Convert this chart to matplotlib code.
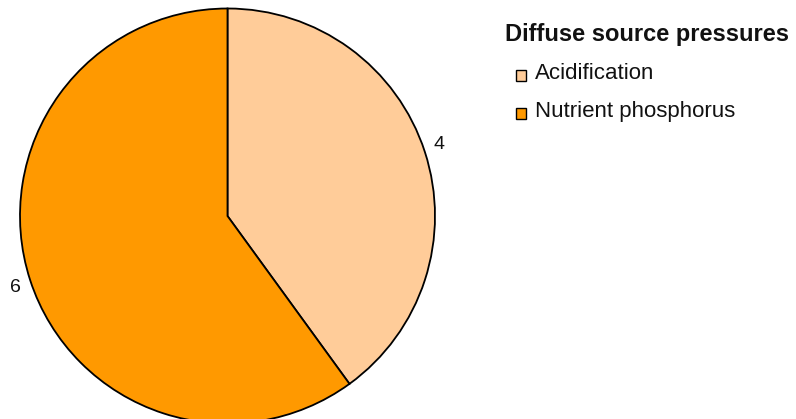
import matplotlib.pyplot as plt
from matplotlib.patches import Rectangle

plt.rcParams['font.family'] = ['Liberation Sans', 'DejaVu Sans']

# data
categorias = ["Acidification", "Nutrient phosphorus"]
valores = [4, 6]
colores = ["#FFCC99", "#FF9900"]
titulo_leyenda = "Diffuse source pressures"

W, H = 796, 419
fig = plt.figure(figsize=(W / 100, H / 100), dpi=100, facecolor="white")

def fx(px):
    return px / W

def fy(py):
    return 1 - py / H

# pie placement in pixels
cx, cy, r = 227.5, 216, 207.5
ax = fig.add_axes([(cx - r) / W, (H - cy - r) / H, 2 * r / W, 2 * r / H])
ax.set_aspect("equal")

wedges, textos = ax.pie(valores, colors=colores, startangle=90, counterclock=False,
                        labels=[str(v) for v in valores], labeldistance=1.045,
                        wedgeprops=dict(edgecolor="black", linewidth=1.3),
                        textprops=dict(fontsize=14, color="#111111"))
ax.set_xlim(-1, 1)
ax.set_ylim(-1, 1)
for w in wedges:
    w.set_clip_on(False)
# separar un poco las etiquetas en vertical
for t in textos:
    x, y = t.get_position()
    t.set_position((x, y * 1.06))

# ── Leyenda manual ───────────────────────────────────────────────────────────
fig.text(fx(505), fy(41), titulo_leyenda, fontsize=17, fontweight="bold",
         va="baseline", ha="left", color="#111111")
for i, (cat, col) in enumerate(zip(categorias, colores)):
    base = 79 + 38 * i
    fig.add_artist(Rectangle((fx(515.5), fy(base + 2)), 10.5 / W, 10.5 / H,
                             facecolor=col, edgecolor="black", linewidth=1.0,
                             transform=fig.transFigure))
    fig.text(fx(535), fy(base), cat, fontsize=16, va="baseline", ha="left",
             color="#111111")

fig.savefig("out.png", dpi=100, facecolor="white")
